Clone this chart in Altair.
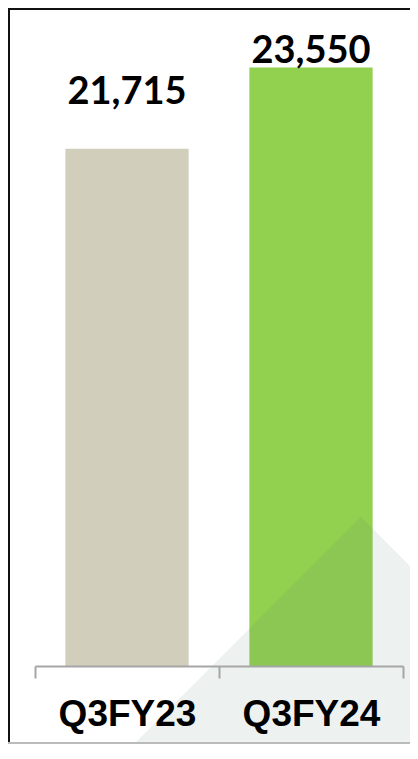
import altair as alt
import pandas as pd

quarters = ["Q3FY23", "Q3FY24"]
values = [21715, 23550]
labels = ["21,715", "23,550"]
colors = ["#D1CFBB", "#92D050"]

df = pd.DataFrame({"quarter": quarters, "value": values, "label": labels, "color": colors})

W, H = 368, 658
PL, PT = 27, 0
SVG_W, SVG_H = 402, 736

x = alt.X("quarter:N", sort=quarters,
          scale=alt.Scale(paddingInner=0, paddingOuter=0),
          axis=alt.Axis(title=None, labelAngle=0, tickBand="extent", tickSize=12,
                        tickWidth=2, domainWidth=2, domainColor="#A6A6A6", tickColor="#A6A6A6",
                        labelFont="Liberation Sans", labelFontWeight="bold", labelFontSize=37,
                        labelColor="#000000", labelBaseline="alphabetic", labelPadding=47,
                        zindex=1))
y = alt.Y("value:Q", scale=alt.Scale(domain=[10000, 24900], nice=False, zero=False), axis=None)

base = alt.Chart(df)

bars = base.mark_bar(width=alt.RelativeBandSize(0.67)).encode(
    x=x, y=y, y2=alt.datum(10000),
    color=alt.Color("color:N", scale=None),
)

lab1 = base.transform_filter(alt.datum.quarter == quarters[0]).mark_text(
    font="Lato", fontWeight="bold", fontSize=38, baseline="alphabetic", dy=-45, color="#000000"
).encode(x=x, y=y, text="label:N")
lab2 = base.transform_filter(alt.datum.quarter == quarters[1]).mark_text(
    font="Lato", fontWeight="bold", fontSize=38, baseline="alphabetic", dy=-5, color="#000000"
).encode(x=x, y=y, text="label:N")

tri = base.transform_filter(alt.datum.quarter == quarters[1]).mark_point(
    shape="M 0 -1 L 2 1 L -2 1 Z", filled=True, color="#4B7D69", opacity=0.1, strokeWidth=0,
).encode(x=alt.value(326), y=alt.value(809), size=alt.value(360000))

frame_left = base.transform_filter(alt.datum.quarter == quarters[0]).mark_rule(
    color="#111111", strokeWidth=2).encode(
    x=alt.value(-PL + 1), y=alt.value(-PT), y2=alt.value(SVG_H))
frame_top = base.transform_filter(alt.datum.quarter == quarters[0]).mark_rule(
    color="#111111", strokeWidth=2).encode(
    x=alt.value(-PL), x2=alt.value(SVG_W), y=alt.value(1))
frame_bottom = base.transform_filter(alt.datum.quarter == quarters[0]).mark_rule(
    color="#BBBBBB", strokeWidth=2).encode(
    x=alt.value(-PL), x2=alt.value(SVG_W), y=alt.value(SVG_H - PT - 1))

chart = alt.layer(bars, lab1, lab2, tri, frame_left, frame_top, frame_bottom).properties(
    width=W, height=H,
    autosize=alt.AutoSizeParams(type="none"),
    padding={"left": PL, "top": PT, "right": SVG_W - PL - W, "bottom": SVG_H - PT - H},
).configure_view(stroke=None)

chart.save("out.html", embed_options={"renderer": "svg", "actions": False})
